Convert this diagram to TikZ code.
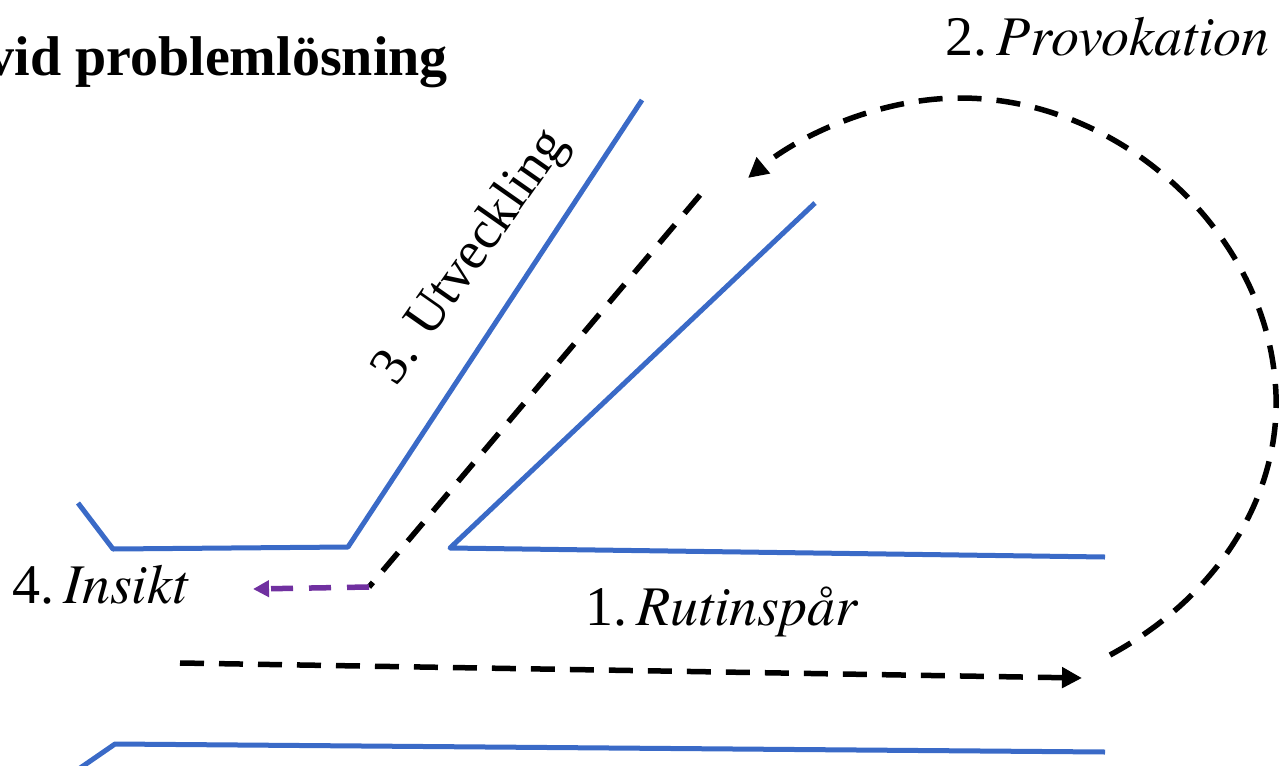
\documentclass[tikz,border=0pt]{standalone}
\usepackage{fontspec}
\setmainfont{Liberation Serif}[UprightFont={Liberation Serif}, BoldFont={Liberation Serif Bold}, ItalicFont={Liberation Serif Italic}, BoldItalicFont={Liberation Serif Bold Italic}]
\newfontfamily\termesit{texgyretermes-italic.otf}
\usetikzlibrary{arrows.meta}
\definecolor{trackblue}{RGB}{58,106,199}
\definecolor{insight}{RGB}{112,48,160}
\tikzset{
  track/.style={draw=trackblue, line width=5pt, line join=round},
  flow/.style={draw=black, line width=5.5pt, dash pattern=on 24pt off 15pt, -{Triangle[length=20pt,width=20pt]}},
  flowplain/.style={draw=black, line width=5.5pt, dash pattern=on 24pt off 15pt},
  insightflow/.style={draw=insight, line width=5.5pt, dash pattern=on 22pt off 16pt, -{Triangle[length=16pt,width=16pt]}},
  lbl/.style={inner sep=0pt, font=\fontsize{56}{64}\selectfont},
}
\begin{document}
\begin{tikzpicture}[x=1pt,y=-1pt]
\useasboundingbox (0,0) rectangle (1283,766);
% tracks
\draw[track] (78,503) -- (113,549) -- (348,547) -- (642,100);
\draw[track] (815,203) -- (450,548) -- (1105,557);
\draw[track] (70,775) -- (115,744) -- (1105,752);
% coordinates
\coordinate (r0) at (180,663);
\coordinate (r1) at (1082,678);
\coordinate (p0) at (1110,655);
\coordinate (p1) at (1275,380);
\coordinate (p2) at (960,98);
\coordinate (p3) at (748,178);
\coordinate (u0) at (700,195);
\coordinate (u1) at (369,587);
\coordinate (i1) at (253,589);
% flows
\draw[flow] (r0) -- (r1);
\draw[flow] (p0) .. controls (1230,590) and (1285,480) .. (p1)
  .. controls (1262,230) and (1120,98) .. (p2)
  .. controls (880,98) and (800,135) .. (p3);
\draw[flowplain] (u0) -- (u1);
\draw[insightflow] (u1) -- (i1);
% labels
\node[anchor=base east, inner sep=0pt, font=\fontsize{56}{64}\selectfont\bfseries] (title) at (448,75) {vid problemlösning};
\node[lbl, anchor=base west] (l2) at (945,55) {2.\,{\termesit Provokation}};
\node[lbl, anchor=base west] (l4) at (12,603) {4.\,{\termesit Insikt}};
\node[lbl, anchor=base west] (l1) at (585,625) {1.\,{\termesit Rutinspår}};
\node[inner sep=0pt, rotate=55, font=\fontsize{54}{60}\selectfont] (l3) at (472,258) {3. Utveckling};
\end{tikzpicture}
\end{document}
